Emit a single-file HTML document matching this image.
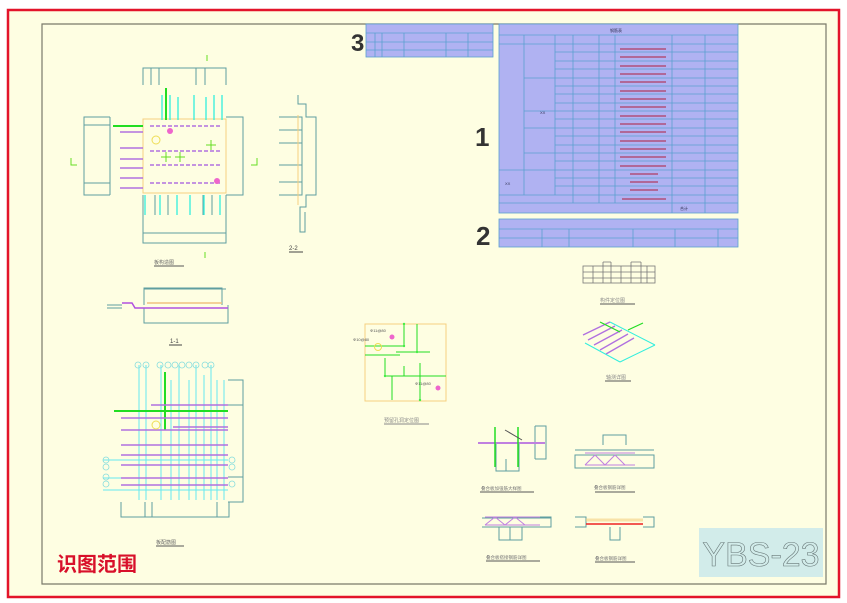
<!DOCTYPE html>
<html><head><meta charset="utf-8"><style>
html,body{margin:0;padding:0;background:#fff;width:847px;height:603px;overflow:hidden}
svg{display:block}
text{font-family:"Liberation Sans","Noto Sans CJK SC",sans-serif}
</style></head><body>
<svg width="847" height="603" viewBox="0 0 847 603" xmlns="http://www.w3.org/2000/svg">
<rect x="8" y="10" width="831" height="587" fill="#fefee2" stroke="#e3142a" stroke-width="2.5"/>
<path d="M42 584 V24 H826 V584 Z" fill="none" stroke="#7a7a6a" stroke-width="1.2"/>

<!-- Table 3 -->
<g stroke="#5aa0d0" stroke-width="0.8">
<rect x="366" y="24" width="127" height="33" fill="#b0b2f2"/>
<line x1="366" y1="33" x2="493" y2="33"/><line x1="366" y1="42" x2="493" y2="42"/><line x1="366" y1="50" x2="493" y2="50"/>
<path d="M375 33V57M382 33V57M404 33V57M446 33V57M468 33V57"/>
</g>
<text x="351" y="51" font-size="24" font-weight="bold" fill="#333">3</text>

<!-- Table 1 -->
<g stroke="#5aa0d0" stroke-width="0.8">
<rect x="499" y="24" width="239" height="189" fill="#b0b2f2"/>
<line x1="499" y1="35" x2="738" y2="35"/><line x1="499" y1="44" x2="738" y2="44"/>
<path d="M524 35V195M555 35V195M573 35V203M599 35V203M615 35V203M672 35V213M705 35V213"/>
<path d="M555 52H738M555 61H738M555 69H738M524 78H738M555 86H738M555 94H738M555 103H738M524 111H738M555 119H738M524 128H738M555 136H738M555 145H738M524 153H738M555 161H738M499 170H738M555 178H738M555 186H738M499 195H738M499 203H738"/>
</g>
<g stroke="#b0507a" stroke-width="1.6" fill="none">
<path d="M620 49h46M620 57h46M620 66h46M620 74h46M620 82h46M620 91h46M620 99h46M620 107h46M620 116h46M620 124h46M620 132h46M620 141h46M620 149h46M620 157h46M620 166h46"/>
<path d="M630 174h28M630 182h28M630 190h28M622 199h44"/>
</g>
<g font-size="4" fill="#335">
<text x="610" y="32">钢筋表</text><text x="540" y="114">XX</text><text x="505" y="185">XX</text>
<text x="680" y="210">合计</text>
</g>
<text x="475" y="146" font-size="26" font-weight="bold" fill="#333">1</text>

<!-- Table 2 -->
<g stroke="#5aa0d0" stroke-width="0.8">
<rect x="499" y="219" width="239" height="28" fill="#b0b2f2"/>
<line x1="499" y1="229" x2="738" y2="229"/><line x1="499" y1="238" x2="738" y2="238"/>
<path d="M542 229V247M569 229V247M633 229V247M675 229V247M718 229V247"/>
</g>
<text x="476" y="245" font-size="26" font-weight="bold" fill="#333">2</text>

<!-- Top-left plan -->
<g fill="none" stroke="#5f9ea0" stroke-width="1">
<path d="M143 85V68H226V85M151 68V85M159 68V85M196 68V85M205 68V85"/>
<path d="M110 117H84V195H110M84 125H110M110 117V195M84 183H110"/>
<path d="M226 117H243V195H226"/>
<path d="M143 195V243H226V195M143 233H226M155 195V215M168 195V215M203 195V215M212 195V215"/>
</g>
<rect x="143" y="119" width="83" height="74" fill="none" stroke="#f5d080" stroke-width="1"/>
<g stroke="#33eedd" stroke-width="1.3">
<path d="M162 95V120M170 95V120M178 97V120M194 95V120M206 97V120M214 95V120M222 95V120"/>
<path d="M145 195V215M160 195V215M177 195V215M190 195V215M204 195V215M220 195V215"/>
</g>
<path d="M166 88V120M113 126H143" stroke="#22dd22" stroke-width="2"/>
<g stroke="#b070e0" stroke-width="1.5">
<path d="M120 132H143M120 148H143M120 159H143M120 168H143M120 178H143M120 188H143"/>
<path d="M150 126H222M150 151H222M150 165H222M150 183H222" stroke-dasharray="4 2"/>
</g>
<circle cx="170" cy="131" r="3" fill="#ee66cc"/><circle cx="217" cy="181" r="3" fill="#ee66cc"/>
<circle cx="156" cy="140" r="4" fill="none" stroke="#eedd55"/>
<g stroke="#66dd22" stroke-width="1" fill="none"><path d="M206 145h10M211 140v10M161 157h10M166 152v10M175 157h10M180 152v10"/>
<path d="M71 158v7h6M257 158v7h-6M207 55v6M205 252v6"/></g>
<text x="154" y="264" font-size="5" fill="#666">板构造图</text>
<line x1="154" y1="266" x2="184" y2="266" stroke="#555"/>

<!-- 2-2 -->
<g fill="none" stroke="#5f9ea0" stroke-width="1">
<path d="M279 117H302V195H279M279 130H302M279 143H302M279 165H302M279 182H302"/>
<path d="M298 95V104H306V117H316V195H306V207H300V232H305V212"/>
</g>
<path d="M298 115V205" stroke="#f5d080"/>
<text x="289" y="250" font-size="6" fill="#444">2-2</text><line x1="289" y1="252" x2="303" y2="252" stroke="#444"/>

<!-- 1-1 -->
<g fill="none" stroke="#5f9ea0" stroke-width="1">
<path d="M144 305V288H222V305M144 289H226M144 308V323H228V305M222 288V300"/>
<path d="M107 305h15M107 308h15"/>
</g>
<path d="M122 303h10l3 5H228" stroke="#b050e0" stroke-width="1.5" fill="none"/>
<path d="M147 303H222" stroke="#f0c080" stroke-width="1.5"/>
<text x="170" y="343" font-size="6" fill="#444">1-1</text><line x1="169" y1="345" x2="182" y2="345" stroke="#444"/>

<!-- Bottom-left plan -->
<g fill="none" stroke="#5f9ea0" stroke-width="1">
<path d="M228 380H243V502H228M228 405H243M228 477H243"/>
<path d="M121 502V517H229V502M145 502V517M152 502V517M217 502V517"/>
</g>
<g stroke="#66e8f0" stroke-width="1">
<path d="M139 365V500M146 365V500M161 365V500M171 380V500M179 365V500M189 380V500M196 365V500M204 375V500M211 365V500M217 380V500M224 380V500"/>
<path d="M103 460H228M103 478H228M103 490H228"/>
</g>
<g stroke="#22dd22" stroke-width="2"><path d="M165 372V430M114 411H228"/></g>
<g stroke="#b070e0" stroke-width="1.5">
<path d="M151 405H228M121 418H228M121 430H228M173 427H228M121 445H228M121 455H228M121 465H228M121 478H228M121 485H228"/>
</g>
<g fill="none" stroke="#88dddd" stroke-width="0.8">
<circle cx="138" cy="365" r="3"/><circle cx="146" cy="365" r="3"/><circle cx="160" cy="365" r="3"/><circle cx="168" cy="365" r="3"/><circle cx="175" cy="365" r="3"/><circle cx="182" cy="365" r="3"/><circle cx="189" cy="365" r="3"/><circle cx="196" cy="365" r="3"/><circle cx="205" cy="365" r="3"/><circle cx="211" cy="365" r="3"/>
<circle cx="106" cy="460" r="3"/><circle cx="106" cy="467" r="3"/><circle cx="106" cy="477" r="3"/><circle cx="106" cy="484" r="3"/>
<circle cx="232" cy="460" r="3"/><circle cx="232" cy="467" r="3"/><circle cx="232" cy="484" r="3"/>
</g>
<circle cx="156" cy="425" r="4" fill="none" stroke="#eedd55"/>
<text x="156" y="544" font-size="5" fill="#666">板配筋图</text><line x1="156" y1="546" x2="184" y2="546" stroke="#555"/>

<!-- 识图范围 -->
<text x="57" y="571" font-size="20" font-weight="bold" fill="#d8102a">识图范围</text>

<!-- Middle placement -->
<rect x="365" y="324" width="81" height="77" fill="none" stroke="#f5d080"/>
<g stroke="#22dd22" stroke-width="1" fill="none">
<path d="M404 324V346H365M417 324V352M396 352H430M385 358V376H446M404 366V376M392 376V400M420 363V400M365 355H400"/>
</g>
<g fill="#44ee44"><circle cx="404" cy="324" r="1.2"/><circle cx="404" cy="346" r="1.2"/><circle cx="417" cy="352" r="1.2"/><circle cx="385" cy="376" r="1.2"/><circle cx="420" cy="400" r="1.2"/></g>
<circle cx="392" cy="337" r="2.5" fill="#ee66cc"/><circle cx="438" cy="388" r="2.5" fill="#ee66cc"/>
<circle cx="378" cy="347" r="3.5" fill="none" stroke="#eedd55"/>
<g fill="#555" font-size="4"><text x="370" y="332">Φ11@80</text><text x="353" y="341">Φ10@80</text><text x="415" y="385">Φ11@80</text></g>
<text x="384" y="422" font-size="5" fill="#888">预留孔洞定位图</text><line x1="384" y1="424" x2="429" y2="424" stroke="#888"/>

<!-- Building plan -->
<g fill="none" stroke="#777" stroke-width="0.8">
<rect x="583" y="266" width="72" height="17"/>
<path d="M583 272H655M583 278H655M593 266V283M603 262V283M611 262V283M621 266V283M631 262V283M641 262V283M647 266V283M603 262H611M631 262H641"/>
</g>
<text x="600" y="302" font-size="5" fill="#888">构件定位图</text><line x1="600" y1="304" x2="635" y2="304" stroke="#555"/>

<!-- Axonometric -->
<g stroke="#b070e0" stroke-width="1.3"><path d="M583 335L610 322M588 340L615 326M594 345L622 330M600 350L628 334M606 354L634 338"/></g>
<g stroke="#33eedd" stroke-width="1"><path d="M585 343L620 362M610 322L655 345M620 362L655 345"/></g>
<path d="M600 322l20 10M628 330l15-7" stroke="#22dd22" stroke-width="1.2"/>
<text x="606" y="379" font-size="5" fill="#888">轴测详图</text><line x1="605" y1="381" x2="631" y2="381" stroke="#555"/>

<!-- Bottom right details -->
<g fill="none" stroke="#5f9ea0" stroke-width="1">
<path d="M535 426H546V459H535M535 426V459M496 443V471H519V443M506 459V471"/>
<path d="M603 445V435H626V445M575 455H654V468H575ZM575 450H654"/>
<path d="M482 518H551V527H482M540 517H551V527M499 527V540H522V527M510 527V540"/>
<path d="M575 517H586V527H575M643 517H654V527H643M610 527V540H620V527"/>
</g>
<path d="M478 443H545" stroke="#c080e0" stroke-width="2"/>
<path d="M495 427V467M518 427V467" stroke="#22dd22" stroke-width="1.5"/>
<path d="M505 430L522 440" stroke="#555"/>
<path d="M585 453h50M585 465h50M585 465l10-10l10 10l10-10l10 10" stroke="#c080e0" fill="none" stroke-width="1"/>
<path d="M485 517h55M485 525h55M485 525l10-8l10 8l10-8l10 8" stroke="#c080e0" fill="none" stroke-width="1"/>
<path d="M586 524H643" stroke="#ee2222" stroke-width="1.5"/>
<path d="M586 520H643" stroke="#f5d080" stroke-width="3" opacity="0.6"/>
<g font-size="4.5" fill="#777">
<text x="481" y="490">叠合板加强筋大样图</text><text x="594" y="489">叠合板钢筋详图</text>
<text x="486" y="559">叠合板搭接钢筋详图</text><text x="595" y="560">叠合板钢筋详图</text>
</g>
<path d="M480 492H534M595 492H635M486 561H540M595 562H635" stroke="#555"/>

<!-- YBS-23 -->
<rect x="699" y="528" width="124" height="49" fill="#d2ecea"/>
<text x="761" y="566" font-size="34" fill="#d2ecea" stroke="#6a7a7a" stroke-width="0.6" text-anchor="middle">YBS-23</text>
</svg>
</body></html>
